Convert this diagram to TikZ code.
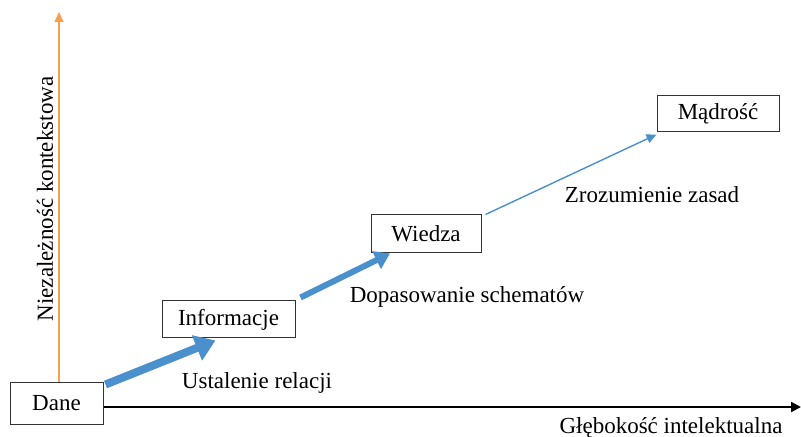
\documentclass[tikz,border=0pt]{standalone}
\usepackage{fontspec}
\setmainfont{Liberation Serif}
\usetikzlibrary{arrows.meta}
\definecolor{stepblue}{RGB}{74,144,204}
\definecolor{axisorange}{RGB}{247,160,80}
\begin{document}
\begin{tikzpicture}[x=0.5pt,y=-0.5pt,
    every node/.style={font=\fontsize{11.5}{13}\selectfont},
    level/.style={draw=black!80,line width=0.5pt,inner sep=0pt},
    bigstep/.style={stepblue,line width=4pt,-{Triangle[width=13pt,length=10pt]}},
    midstep/.style={stepblue,line width=3pt,-{Triangle[width=9.5pt,length=7.5pt]}},
    thinstep/.style={stepblue,line width=0.7pt,-{Triangle[width=4.5pt,length=5pt]}}]
    \useasboundingbox (0,0) rectangle (801,437);
    % boxes
    \node[level,minimum width=46.5pt,minimum height=21pt] (dane) at (56.5,403) {Dane};
    \node[level,minimum width=66.5pt,minimum height=18.5pt] (informacje) at (228.5,319.5) {Informacje};
    \node[level,minimum width=55pt,minimum height=19pt] (wiedza) at (426,234) {Wiedza};
    \node[level,minimum width=61pt,minimum height=18pt] (madrosc) at (718,114) {Mądrość};
    % axes
    \coordinate (ytop) at (59,12);
    \coordinate (xend) at (801,407);
    \draw[axisorange,line width=0.75pt,-{Triangle[width=4.5pt,length=5pt]}] (dane.north -| ytop) -- (ytop);
    \draw[black,line width=1pt,-{Triangle[width=5pt,length=5pt]}] (dane.east |- xend) -- (xend);
    \node[rotate=90] (ylabel) at (45,199) {Niezależność kontekstowa};
    \node (xlabel) at (671,428) {Głębokość intelektualna};
    % steps
    \draw[bigstep] ([shift={(2,3)}]dane.north east) -- ([shift={(-13,2)}]informacje.south);
    \draw[midstep] ([shift={(5,-3)}]informacje.north east) -- ([shift={(-36,0)}]wiedza.south);
    \draw[thinstep] ([shift={(4,0)}]wiedza.north east) -- ([shift={(0,2)}]madrosc.south west);
    \node (relacji) at (257,383) {Ustalenie relacji};
    \node (schematow) at (467,297) {Dopasowanie schematów};
    \node (zasad) at (652,195) {Zrozumienie zasad};
\end{tikzpicture}
\end{document}
